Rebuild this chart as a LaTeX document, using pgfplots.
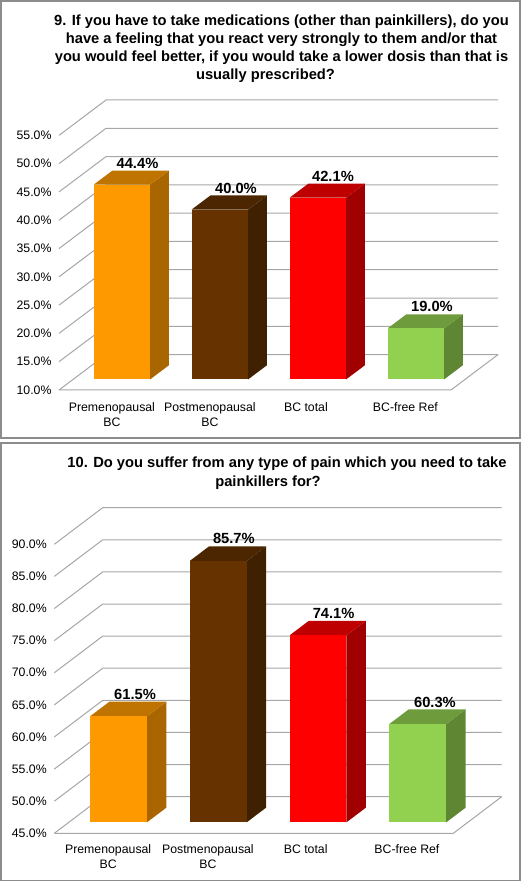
\documentclass[border=0pt]{standalone}
\usepackage{pgfplots}
\usepackage{pgfplotstable}
\usepackage{fontspec}
\setmainfont{Liberation Sans}
\pgfplotsset{compat=1.18}

\definecolor{gridc}{HTML}{A6A6A6}
\definecolor{framec}{HTML}{8C8C8C}
\definecolor{oF}{HTML}{FF9900}\definecolor{oT}{HTML}{BF7300}\definecolor{oS}{HTML}{A86500}
\definecolor{bF}{HTML}{663300}\definecolor{bT}{HTML}{4C2600}\definecolor{bS}{HTML}{3F2000}
\definecolor{rF}{HTML}{FF0000}\definecolor{rT}{HTML}{BF0000}\definecolor{rS}{HTML}{A00000}
\definecolor{gF}{HTML}{92D050}\definecolor{gT}{HTML}{6E9C3C}\definecolor{gS}{HTML}{5F8633}

% value = percentage; lx = x position of the value label on the axis
\pgfplotstableread{
idx value lx
0 44.4 0.801
1 40.0 1.806
2 42.1 2.796
3 19.0 3.806
}\dataNine
\pgfplotstableread{
idx value lx
0 61.5 0.809
1 85.7 1.800
2 74.1 2.800
3 60.3 3.816
}\dataTen

% oblique depth of the plot floor, in axis units: \DX, \DY; bar: \BL, \BW; floor value: \YB
\newcommand{\gridlevel}[1]{%
  \pgfmathsetmacro{\xb}{\DX}\pgfmathsetmacro{\xe}{4+\DX}\pgfmathsetmacro{\yb}{#1+\DY}%
  \addplot[gridc,line width=1pt] coordinates {(0,#1) (\xb,\yb) (\xe,\yb)};%
}
\newcommand{\floorline}{%
  \pgfmathsetmacro{\xe}{4+\DX}\pgfmathsetmacro{\yb}{\YB+\DY}%
  \addplot[gridc,line width=1pt] coordinates {(0,\YB) (4,\YB) (\xe,\yb)};%
}
\newcommand{\cuboid}[5]{% table, row, front, top, side
  \pgfplotstablegetelem{#2}{value}\of{#1}\let\myv\pgfplotsretval
  \pgfmathsetmacro{\xL}{#2+\BL+0.3*\DX}%
  \pgfmathsetmacro{\xR}{\xL+\BW}%
  \pgfmathsetmacro{\yB}{\YB+0.3*\DY}%
  \pgfmathsetmacro{\yT}{\myv+0.3*\DY}%
  \pgfmathsetmacro{\xLb}{\xL+0.4*\DX}%
  \pgfmathsetmacro{\xRb}{\xR+0.4*\DX}%
  \pgfmathsetmacro{\yBb}{\yB+0.4*\DY}%
  \pgfmathsetmacro{\yTb}{\yT+0.4*\DY}%
  \addplot[fill=#5,draw=none] coordinates {(\xR,\yB) (\xRb,\yBb) (\xRb,\yTb) (\xR,\yT)};%
  \addplot[fill=#4,draw=none] coordinates {(\xL,\yT) (\xR,\yT) (\xRb,\yTb) (\xLb,\yTb)};%
  \addplot[fill=#3,draw=none] coordinates {(\xL,\yB) (\xR,\yB) (\xR,\yT) (\xL,\yT)};%
}
\pgfplotsset{
  panel/.style={
    scale only axis, clip=false,
    axis line style={draw=none},
    major tick length=0pt,
    /pgf/number format/assume math mode=true,
    xtick={0.54,1.54,2.52,3.535},
    xticklabels={{Premenopausal\\BC},{Postmenopausal\\BC},{BC total},{BC-free Ref}},
    xticklabel style={align=center,font=\fontsize{12.3}{15.3}\selectfont},
    yticklabel={\pgfmathprintnumber[fixed,fixed zerofill,precision=1]{\tick}\%},
    yticklabel style={font=\fontsize{12.3}{15}\selectfont,xshift=-4pt},
  },
  vlabels/.style={
    draw=none, mark=none, point meta=explicit,
    nodes near coords={\pgfmathprintnumber[fixed,fixed zerofill,precision=1]{\pgfplotspointmeta}\%},
    every node near coord/.append style={anchor=south,inner sep=2pt,
      font=\fontsize{14.7}{16}\selectfont\bfseries},
  },
}

\begin{document}
\begin{tikzpicture}[x=1pt,y=1pt]
\path[use as bounding box] (0,0) rectangle (521,882);
\draw[framec,line width=1.5pt] (1,881) rectangle (520,444);
\draw[framec,line width=1.5pt] (1,439) rectangle (520,1.5);

\node[align=center,font=\fontsize{14.7}{18}\selectfont\bfseries] at (281.5,833.5)
  {9. If you have to take medications (other than painkillers), do you\\
   have a feeling that you react very strongly to them and/or that\\
   you would feel better, if you would take a lower dosis than that is\\
   usually prescribed?\hspace*{32pt}};
\node[align=center,font=\fontsize{14.7}{18.7}\selectfont\bfseries] at (287,408.6)
  {10. Do you suffer from any type of pain which you need to take\\
   painkillers for?\hspace*{38pt}};

\begin{axis}[panel, at={(59pt,492pt)}, anchor=south west,
  width=439pt, height=290pt,
  xmin=0, xmax=4.48, ymin=10, ymax=61.25,
  xticklabel style={yshift=-9pt},
  ytick={10,15,20,25,30,35,40,45,50,55}]
  \def\DX{0.48}\def\DY{6.25}\def\BL{0.209}\def\BW{0.577}\def\YB{10}
  \pgfplotsinvokeforeach{10,15,20,25,30,35,40,45,50,55}{\gridlevel{#1}}
  \floorline
  \cuboid{\dataNine}{0}{oF}{oT}{oS}
  \cuboid{\dataNine}{1}{bF}{bT}{bS}
  \cuboid{\dataNine}{2}{rF}{rT}{rS}
  \cuboid{\dataNine}{3}{gF}{gT}{gS}
  \addplot[vlabels] table[x=lx, y expr=\thisrow{value}+0.7*6.25, meta=value] {\dataNine};
\end{axis}

\begin{axis}[panel, at={(54.3pt,48.7pt)}, anchor=south west,
  width=447.4pt, height=325.6pt,
  xmin=0, xmax=4.485, ymin=45, ymax=95.7,
  xticklabel style={yshift=-7.5pt},
  ytick={45,50,55,60,65,70,75,80,85,90}]
  \def\DX{0.485}\def\DY{5.7}\def\BL{0.2125}\def\BW{0.571}\def\YB{45}
  \pgfplotsinvokeforeach{45,50,55,60,65,70,75,80,85,90}{\gridlevel{#1}}
  \floorline
  \cuboid{\dataTen}{0}{oF}{oT}{oS}
  \cuboid{\dataTen}{1}{bF}{bT}{bS}
  \cuboid{\dataTen}{2}{rF}{rT}{rS}
  \cuboid{\dataTen}{3}{gF}{gT}{gS}
  \addplot[vlabels] table[x=lx, y expr=\thisrow{value}+0.7*5.7, meta=value] {\dataTen};
\end{axis}
\end{tikzpicture}
\end{document}
